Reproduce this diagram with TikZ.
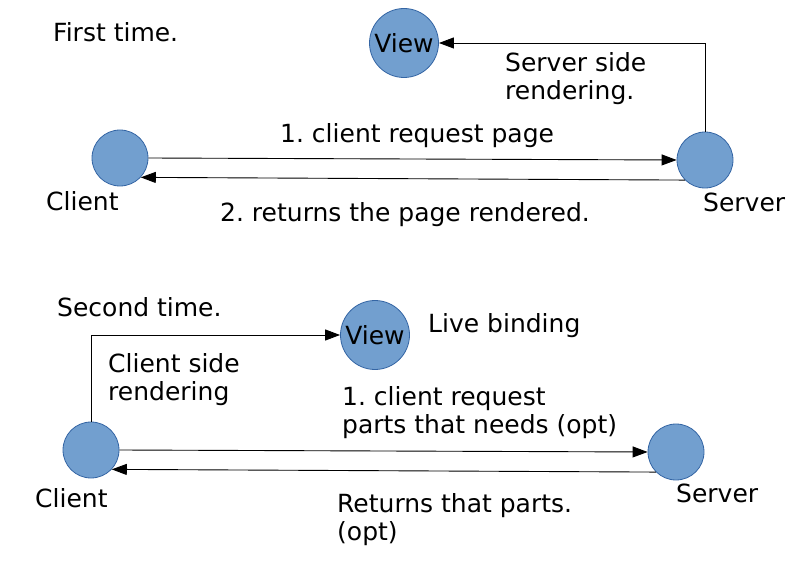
\documentclass[tikz,border=0pt]{standalone}
\usepackage{fontspec}
\setmainfont{DejaVu Sans}
\usetikzlibrary{arrows.meta}
\definecolor{nodefill}{HTML}{729FCF}
\definecolor{nodeline}{HTML}{3465A4}
\frenchspacing
\tikzset{
  dot/.style={circle, fill=nodefill, draw=nodeline, line width=0.8pt, minimum size=56pt, inner sep=0pt},
  viewdot/.style={dot, minimum size=69pt},
  lbl/.style={anchor=base west, inner sep=0pt, align=left},
  conn/.style={line width=0.9pt, draw=black},
  arr/.style={conn, -{Triangle[length=15pt,width=11pt]}},
}
\begin{document}
\begin{tikzpicture}[x=1pt,y=-1pt, font=\fontsize{25}{28}\selectfont\frenchspacing]
\useasboundingbox (0,0) rectangle (804,564);
% top diagram
\node[viewdot] (vw1) at (404,43) {View};
\node[dot] (cl1) at (120,158) {};
\node[dot] (sv1) at (705,160) {};
\node[lbl] (t1) at (53,42) {First time.};
\node[lbl] (t2) at (505,100) {Server side\\rendering.};
\node[lbl] (t3) at (280,143) {1. client request page};
\node[lbl] (t4) at (46,211) {Client};
\node[lbl] (t5) at (703,212) {Server};
\node[lbl] (t6) at (220,222) {2. returns the page rendered.};
\draw[arr] (cl1.east) -- (sv1.west);
\draw[arr] (sv1.225) -- (cl1.-43);
\draw[arr] (sv1.north) |- (vw1.east);
% bottom diagram
\node[viewdot] (vw2) at (375,335) {View};
\node[dot] (cl2) at (91,450) {};
\node[dot] (sv2) at (676,452) {};
\node[lbl] (b1) at (57,317) {Second time.};
\node[lbl] (b2) at (428,333) {Live binding};
\node[lbl] (b3) at (108,400) {Client side\\rendering};
\node[lbl] (b4) at (342,433) {1. client request\\parts that needs (opt)};
\node[lbl] (b5) at (35,507) {Client};
\node[lbl] (b6) at (676,502) {Server};
\node[lbl] (b7) at (337,540) {Returns that parts.\\(opt)};
\draw[arr] (cl2.east) -- (sv2.west);
\draw[arr] (sv2.225) -- (cl2.-43);
\draw[arr] (cl2.north) |- (vw2.west);
\end{tikzpicture}
\end{document}
